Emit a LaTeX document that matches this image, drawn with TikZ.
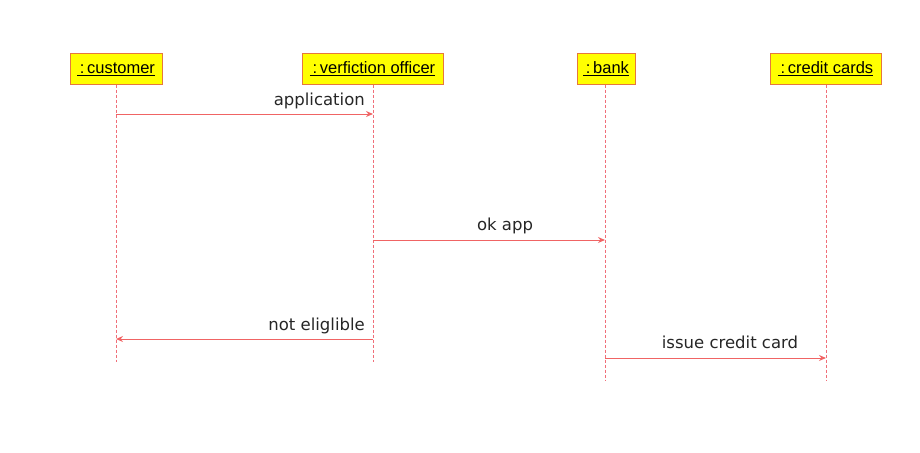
\documentclass[tikz,border=0pt]{standalone}
\usepackage{fontspec}
\setmainfont{DejaVu Sans}
\newfontfamily\boxfont{Liberation Sans}
\usetikzlibrary{arrows.meta}
\definecolor{lifered}{RGB}{240,110,120}
\definecolor{msgred}{RGB}{240,100,100}
\definecolor{boxborder}{RGB}{230,120,60}
\definecolor{boxfill}{RGB}{255,255,0}
\begin{document}
\begin{tikzpicture}[x=1pt,y=-1pt,
  objbox/.style={draw=boxborder,fill=boxfill,line width=1pt,minimum height=30pt,inner sep=2pt,
     font=\boxfont\fontsize{16.5}{18}\selectfont,anchor=center},
  lifeline/.style={draw=lifered,dashed,dash pattern=on 3pt off 2pt,line width=0.8pt},
  msg/.style={draw=msgred,line width=1pt,-{Stealth[length=7pt,width=6pt,open]}},
  lbl/.style={font=\fontsize{16.5}{18}\selectfont,text=black!85,inner sep=0pt}]
\useasboundingbox (0,0) rectangle (920,452);
\node[objbox,minimum width=92pt] (cust) at (116,69) {\underline{\,:\,customer}};
\node[objbox,minimum width=141pt] (off) at (372.5,69) {\underline{\,:\,verfiction officer}};
\node[objbox,minimum width=58pt] (bank) at (606,69) {\underline{\,:\,bank}};
\node[objbox,minimum width=111pt] (cc) at (825.5,69) {\underline{\,:\,credit cards}};
\coordinate (custE) at (116,362);
\coordinate (offE) at (373,362);
\coordinate (bankE) at (605,381);
\coordinate (ccE) at (826,381);
\draw[lifeline] (cust.south -| custE) -- (custE);
\draw[lifeline] (off.south -| offE) -- (offE);
\draw[lifeline] (bank.south -| bankE) -- (bankE);
\draw[lifeline] (cc.south -| ccE) -- (ccE);
\coordinate (a1) at (116,114); \coordinate (a2) at (373,114);
\coordinate (b1) at (373,240); \coordinate (b2) at (605,240);
\coordinate (c1) at (373,339); \coordinate (c2) at (116,339);
\coordinate (d1) at (605,358); \coordinate (d2) at (826,358);
\draw[msg] (a1) -- (a2);
\draw[msg] (b1) -- (b2);
\draw[msg] (c1) -- (c2);
\draw[msg] (d1) -- (d2);
\node[lbl,anchor=base east] (la) at (365,105) {application};
\node[lbl,anchor=base] (lb) at (505,230) {ok app};
\node[lbl,anchor=base east] (lc) at (365,330) {not eliglible};
\node[lbl,anchor=base] (ld) at (730,348) {issue credit card};
\end{tikzpicture}
\end{document}
